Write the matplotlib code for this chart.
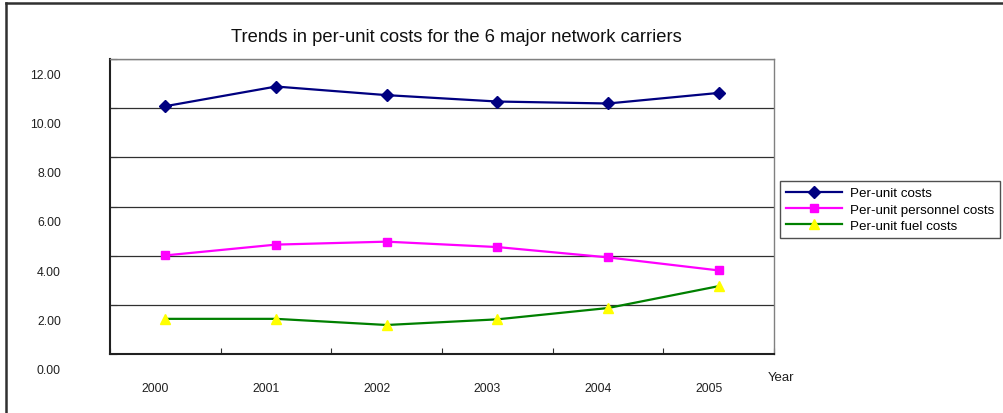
import numpy as np
import matplotlib.pyplot as plt
from matplotlib.lines import Line2D
from matplotlib.transforms import ScaledTranslation

plt.rcParams['font.family'] = ['Liberation Sans', 'DejaVu Sans']

years = ['2000', '2001', '2002', '2003', '2004', '2005']
per_unit_costs = [10.08, 10.88, 10.53, 10.27, 10.19, 10.62]
personnel_costs = [4.01, 4.45, 4.57, 4.35, 3.93, 3.40]
fuel_costs = [1.43, 1.43, 1.18, 1.41, 1.87, 2.76]
y_ticks = [0, 2, 4, 6, 8, 10, 12]

fig = plt.figure(figsize=(10.04, 4.14), dpi=100)
W, H = 1004, 414
ax = fig.add_axes([110 / W, (H - 355) / H, 664 / W, 295 / H])

x = np.arange(len(years))
ax.plot(x, per_unit_costs, color='#000080', lw=1.6, marker='D', ms=6.5,
        mec='#000080', mfc='#000080', label='Per-unit costs', zorder=4)
ax.plot(x, personnel_costs, color='#FF00FF', lw=1.6, marker='s', ms=6,
        mec='#FF00FF', mfc='#FF00FF', label='Per-unit personnel costs', zorder=4)
ax.plot(x, fuel_costs, color='#008000', lw=1.6, marker='^', ms=7.5,
        mec='#FFFF00', mfc='#FFFF00', label='Per-unit fuel costs', zorder=4)

ax.set_xlim(-0.5, len(years) - 0.5)
ax.set_ylim(0, 12)

# gridlines only, labels are placed by hand below
ax.set_yticks(y_ticks)
ax.set_yticklabels([])
ax.yaxis.grid(True, color='#303030', lw=0.9)
ax.set_xticks(np.arange(len(years) + 1) - 0.5)
ax.set_xticklabels([])
ax.tick_params(axis='both', direction='in', length=5, color='#303030')
ax.tick_params(axis='x', length=4)

for s in ['left', 'bottom']:
    ax.spines[s].set_color('#202020')
    ax.spines[s].set_linewidth(1.5)
for s in ['top', 'right']:
    ax.spines[s].set_color('#808080')
    ax.spines[s].set_linewidth(1.0)

# value labels sit a little below their gridlines
down = ScaledTranslation(0, -16 / 100, fig.dpi_scale_trans)
for v in y_ticks:
    ax.text(-49 / 664, v, f'{v:.2f}', transform=ax.get_yaxis_transform() + down,
            ha='right', va='center', fontsize=8.8, color='#202020')

left = ScaledTranslation(-10 / 100, 0, fig.dpi_scale_trans)
for i, yr in enumerate(years):
    ax.text(i, -34 / 295, yr, transform=ax.get_xaxis_transform() + left,
            ha='center', va='center', fontsize=8.8, color='#202020')

fig.text(768 / W, 1 - 378 / H, 'Year', ha='left', va='center', fontsize=9.5, color='#202020')
fig.text(456 / W, 1 - 38 / H, 'Trends in per-unit costs for the 6 major network carriers',
         ha='center', va='center', fontsize=13.2, color='#101010')

leg = ax.legend(loc='upper left', bbox_to_anchor=(780 / W, 1 - 182 / H),
                bbox_transform=fig.transFigure, borderaxespad=0, fancybox=False,
                fontsize=9.6, handlelength=4.2, handletextpad=0.6,
                labelspacing=0.3, borderpad=0.45, framealpha=1)
leg.get_frame().set_edgecolor('#505050')
leg.get_frame().set_linewidth(1.0)

# outer chart frame
fig.add_artist(Line2D([6 / W, 1], [1 - 3.5 / H] * 2, color='#303030', lw=1.8))
fig.add_artist(Line2D([6 / W] * 2, [0, 1 - 3.5 / H], color='#303030', lw=1.8))

fig.savefig('out.png', dpi=100, facecolor='white')
